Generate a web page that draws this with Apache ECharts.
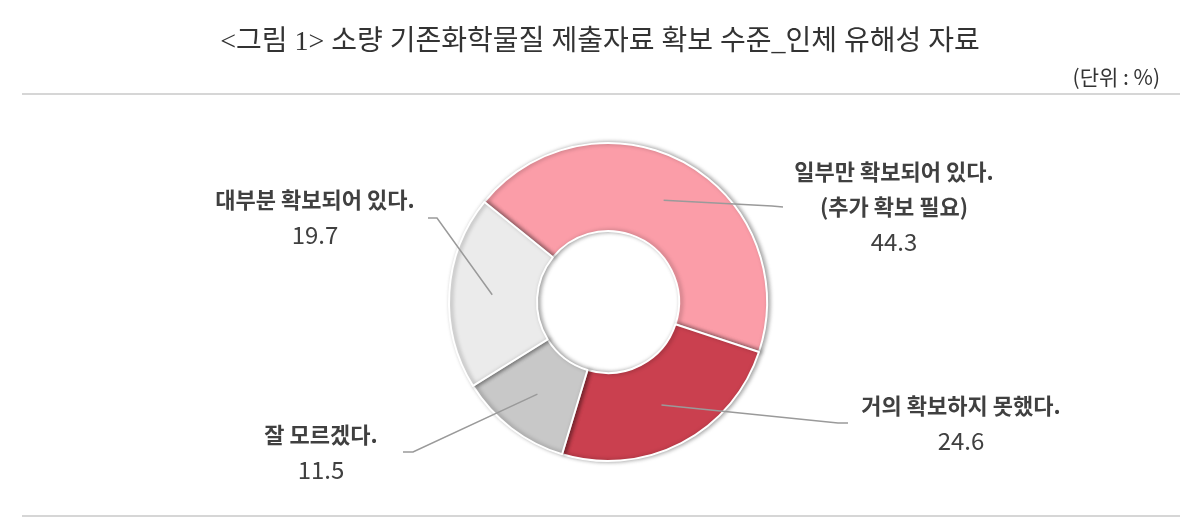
<!DOCTYPE html>
<html><head><meta charset="utf-8">
<script src="https://cdn.jsdelivr.net/npm/echarts@6/dist/echarts.min.js"></script>
<style>html,body{margin:0;padding:0;background:#fff}#c{width:1200px;height:531px}</style>
</head><body><div id="c"></div>
<script>
const categories = ['일부만 확보되어 있다.\n(추가 확보 필요)', '거의 확보하지 못했다.', '잘 모르겠다.', '대부분 확보되어 있다.'];
const values = [44.3, 24.6, 11.5, 19.7];
const colors = ['#FB9DA8', '#CA404F', '#C8C8C8', '#EBEBEB'];
const titleText = '<그림 1> 소량 기존화학물질 제출자료 확보 수준_인체 유해성 자료';
const unitText = '(단위 : %)';

// layout helpers (label placement only)
const pieCenter = [608, 302];
const outerR = 159, innerR = 71, lineStartR = 116;
const labelCenters = [[894, 207], [961, 423], [321, 452], [315, 217]];
const lineBends = [[772, 206], [838, 423], [413, 452], [437, 218]];
const lineEnds = [[783, 207], [848, 423], [403, 452], [428, 218]];

const FONT = "'Noto Sans CJK KR', 'Noto Sans', sans-serif";
const pieData = categories.map((c, i) => ({name: c, value: values[i], itemStyle: {color: colors[i]}}));
const chart = echarts.init(document.getElementById('c'), null, {renderer: 'canvas'});
chart.setOption({
  animation: false,
  backgroundColor: '#fff',
  title: [
    {text: titleText, left: 'center', top: 24,
     textStyle: {fontFamily: "'Liberation Serif', 'Noto Sans CJK KR', serif", fontSize: 28, fontWeight: 'normal', color: '#333'}},
    {text: unitText, right: 35, top: 62,
     textStyle: {fontFamily: FONT, fontSize: 21, fontWeight: 'normal', color: '#333'}}
  ],
  graphic: [
    {type: 'line', shape: {x1: 22, y1: 94, x2: 1180, y2: 94}, style: {stroke: '#c8c8c8', lineWidth: 1.5}, silent: true},
    {type: 'line', shape: {x1: 22, y1: 516, x2: 1180, y2: 516}, style: {stroke: '#c8c8c8', lineWidth: 1.5}, silent: true}
  ],
  series: [{
    type: 'pie',
    z: 2,
    center: pieCenter,
    radius: [innerR, outerR],
    startAngle: 141,
    clockwise: true,
    silent: true,
    emphasis: {disabled: true},
    data: pieData,
    itemStyle: {borderColor: '#fff', borderWidth: 2, shadowColor: 'rgba(0,0,0,0.35)', shadowBlur: 4, shadowOffsetX: 2, shadowOffsetY: 0},
    label: {show: false},
    labelLine: {show: false}
  }, {
    type: 'pie',
    z: 5,
    center: pieCenter,
    radius: [0, lineStartR],
    startAngle: 141,
    clockwise: true,
    avoidLabelOverlap: false,
    silent: true,
    emphasis: {disabled: true},
    data: categories.map((c, i) => ({name: c, value: values[i]})),
    itemStyle: {color: 'rgba(0,0,0,0)', borderWidth: 0},
    label: {
      show: true, position: 'outside',
      formatter: p => p.name.split('\n').map(s => '{n|' + s + '}').join('\n') + '\n{v|' + p.value + '}',
      rich: {
        n: {fontFamily: FONT, fontSize: 22, fontWeight: 'bold', color: '#404040', lineHeight: 35},
        v: {fontFamily: FONT, fontSize: 24, fontWeight: 'normal', color: '#404040', lineHeight: 35}
      }
    },
    labelLine: {show: true, length: 10, length2: 10, smooth: false, lineStyle: {color: '#9a9a9a', width: 1.5}},
    labelLayout: function (params) {
      const i = params.dataIndex;
      const p = params.labelLinePoints;
      const start = (p && p[0]) ? p[0] : lineBends[i];
      return {
        x: labelCenters[i][0], y: labelCenters[i][1], align: 'center', verticalAlign: 'middle',
        labelLinePoints: [start, lineBends[i], lineEnds[i]]
      };
    }
  }]
});
</script></body></html>
